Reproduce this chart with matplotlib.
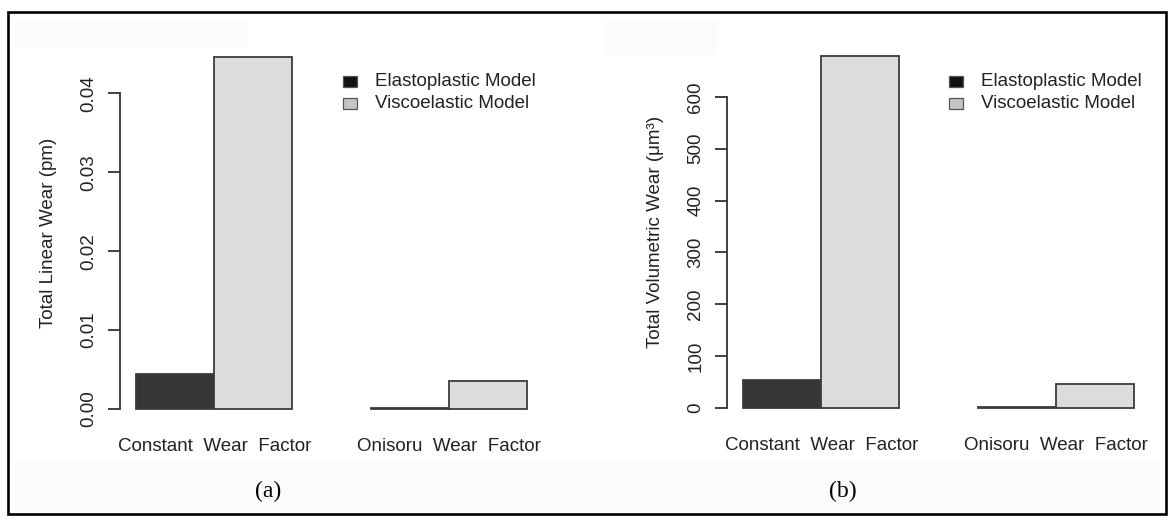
import matplotlib
matplotlib.use("Agg")
import matplotlib.pyplot as plt
from matplotlib.patches import Rectangle

# ---- data -------------------------------------------------------------
groups = ["Constant  Wear  Factor", "Onisoru  Wear  Factor"]
series = ["Elastoplastic Model", "Viscoelastic Model"]

linear_elasto = [0.00447, 0.0001]
linear_visco = [0.04456, 0.00355]

volume_elasto = [54.0, 2.0]
volume_visco = [679.0, 45.7]

linear_ticks = [0.00, 0.01, 0.02, 0.03, 0.04]
linear_ticklabels = ["0.00", "0.01", "0.02", "0.03", "0.04"]
volume_ticks = [0, 100, 200, 300, 400, 500, 600]
volume_ticklabels = ["0", "100", "200", "300", "400", "500", "600"]

panel_tags = ["(a)", "(b)"]
ylabels = ["Total Linear Wear (pm)", "Total Volumetric Wear (\u03bcm\u00b3)"]

# ---- styling ----------------------------------------------------------
W, H = 1175, 523
DPI = 100
bar_colors = ["#363636", "#dcdcdc"]
legend_colors = ["#111111", "#c4c4c4"]
edge = "#3c3c3c"
text_col = "#222222"
FS = 13.5

plt.rcParams["font.family"] = ["Liberation Sans", "DejaVu Sans"]

fig = plt.figure(figsize=(W / DPI, H / DPI), dpi=DPI)
fig.patch.set_facecolor("white")


def px_rect(x0, y0, x1, y1):
    """Figure-fraction rect from pixel box (top-left origin)."""
    return [x0 / W, 1 - y1 / H, (x1 - x0) / W, (y1 - y0) / H]


# faint scan haze behind captions
for (x0, y0, x1, y1) in [(15, 20, 248, 48), (605, 20, 717, 55),
                         (15, 462, 1160, 512)]:
    fig.patches.append(Rectangle((x0 / W, 1 - y1 / H), (x1 - x0) / W,
                                 (y1 - y0) / H, transform=fig.transFigure,
                                 facecolor="#fbfbfb", edgecolor="none",
                                 zorder=0))

# outer frame
fig.patches.append(Rectangle((8 / W, 1 - 514 / H), (1166 - 8) / W,
                             (514 - 12) / H, transform=fig.transFigure,
                             facecolor="none", edgecolor="black",
                             linewidth=1.9, zorder=5))

panels = [
    dict(box=(120.4, 43.3, 542.6, 423.0), elasto=linear_elasto,
         visco=linear_visco, ticks=linear_ticks, ticklabels=linear_ticklabels,
         ylim=(-0.00178, 0.04634), legend_x=343, tag_x=268),
    dict(box=(727.4, 42.0, 1149.6, 421.8), elasto=volume_elasto,
         visco=volume_visco, ticks=volume_ticks, ticklabels=volume_ticklabels,
         ylim=(-27.2, 706.0), legend_x=949, tag_x=843),
]

for k, p in enumerate(panels):
    ax = fig.add_axes(px_rect(*p["box"]))
    ax.set_facecolor("none")
    for i, vals in enumerate([p["elasto"], p["visco"]]):
        xs = [g * 3 + 0.5 + i for g in range(len(groups))]
        ax.bar(xs, vals, width=1.0, color=bar_colors[i], edgecolor=edge,
               linewidth=1.3, zorder=2)
    ax.set_xlim(-0.2, 5.2)
    ax.set_ylim(*p["ylim"])

    for s in ["top", "right", "bottom"]:
        ax.spines[s].set_visible(False)
    ax.spines["left"].set_bounds(p["ticks"][0], p["ticks"][-1])
    ax.spines["left"].set_color("#333333")
    ax.spines["left"].set_linewidth(1.3)

    ax.set_yticks(p["ticks"])
    ax.set_yticklabels(p["ticklabels"], rotation=90, va="center",
                       fontsize=FS, color=text_col)
    ax.tick_params(axis="y", length=8.6, width=1.3, color="#333333", pad=8)

    ax.set_xticks([g * 3 + 1.0 for g in range(len(groups))])
    ax.set_xticklabels(groups, fontsize=FS, color=text_col)
    ax.tick_params(axis="x", length=0, pad=11)

    ax.set_ylabel(ylabels[k], fontsize=FS, color=text_col, labelpad=17)

    # legend
    lx = p["legend_x"]
    for i, name in enumerate(series):
        cy = 81.7 + i * 21.6
        fig.patches.append(Rectangle((lx / W, 1 - (cy + 5.5) / H), 14 / W,
                                     11 / H, transform=fig.transFigure,
                                     facecolor=legend_colors[i],
                                     edgecolor="#555555", linewidth=0.9,
                                     zorder=3))
        fig.text((lx + 32) / W, 1 - cy / H, name, fontsize=FS,
                 color=text_col, va="center", ha="left")

    fig.text(p["tag_x"] / W, 1 - 491 / H, panel_tags[k],
             family=["Liberation Serif", "DejaVu Serif"], fontsize=17,
             color="black", ha="center", va="center")

fig.savefig("out.png", dpi=DPI, facecolor="white")
